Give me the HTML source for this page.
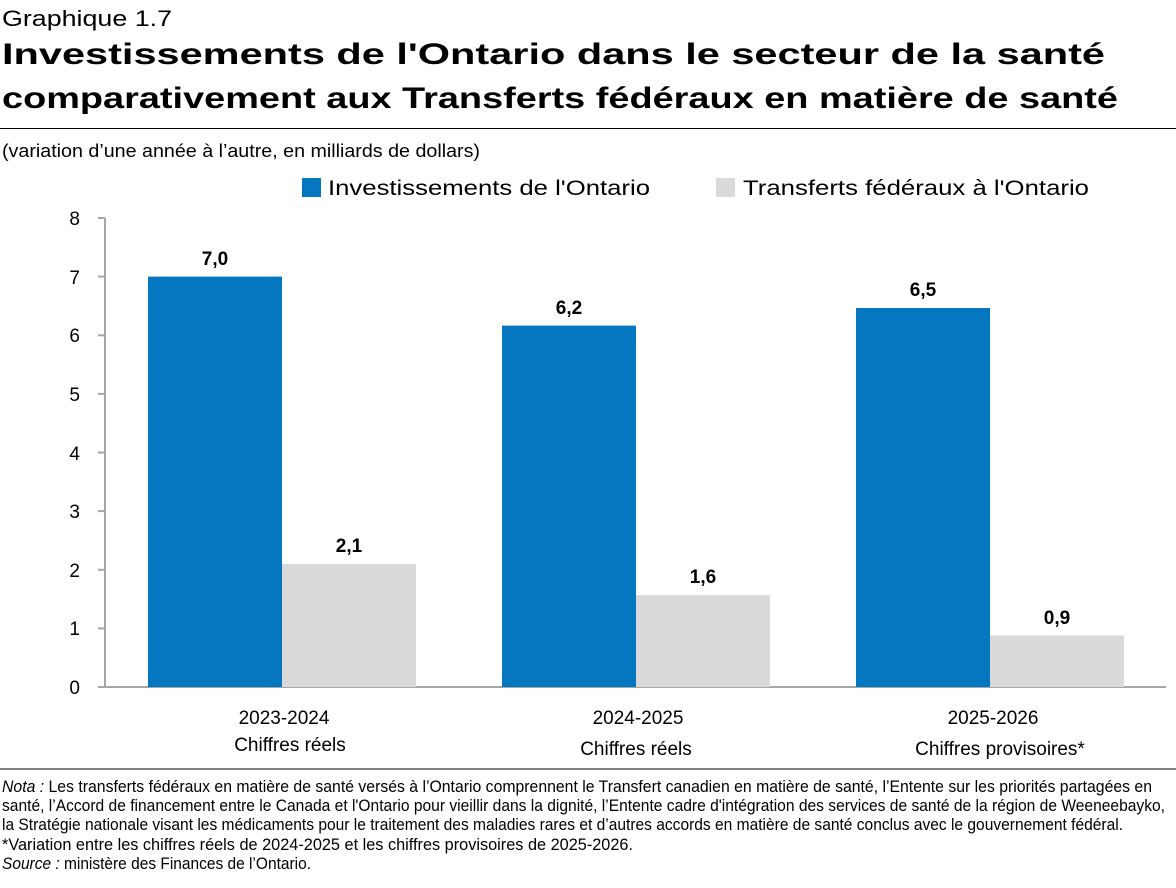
<!DOCTYPE html>
<html><head><meta charset="utf-8"><style>
html,body{margin:0;padding:0;background:#fff}
svg{display:block}
</style></head><body>
<svg width="1176" height="888" viewBox="0 0 1176 888" xmlns="http://www.w3.org/2000/svg" font-family="Liberation Sans, Arial, sans-serif">
<text x="2" y="26" font-size="22" fill="#000" textLength="170" lengthAdjust="spacingAndGlyphs">Graphique 1.7</text>
<text x="2" y="64" font-size="30" font-weight="bold" fill="#000" textLength="1103" lengthAdjust="spacingAndGlyphs">Investissements de l'Ontario dans le secteur de la santé</text>
<text x="2" y="108" font-size="30" font-weight="bold" fill="#000" textLength="1116" lengthAdjust="spacingAndGlyphs">comparativement aux Transferts fédéraux en matière de santé</text>
<line x1="0" y1="128.5" x2="1176" y2="128.5" stroke="#000" stroke-width="1"/>
<text x="2" y="157" font-size="18" fill="#000" textLength="478" lengthAdjust="spacingAndGlyphs">(variation d’une année à l’autre, en milliards de dollars)</text>
<rect x="302" y="178" width="19" height="19" fill="#0577c1"/>
<text x="328" y="195" font-size="21" fill="#000" textLength="322" lengthAdjust="spacingAndGlyphs">Investissements de l'Ontario</text>
<rect x="716" y="178" width="19" height="19" fill="#d9d9d9"/>
<text x="743" y="195" font-size="21" fill="#000" textLength="346" lengthAdjust="spacingAndGlyphs">Transferts fédéraux à l'Ontario</text>
<g stroke="#a6a6a6" stroke-width="2">
<line x1="105" y1="218" x2="105" y2="687"/>
<line x1="98" y1="687" x2="1166" y2="687"/>
<line x1="98" y1="628.4" x2="105" y2="628.4"/>
<line x1="98" y1="569.8" x2="105" y2="569.8"/>
<line x1="98" y1="511.1" x2="105" y2="511.1"/>
<line x1="98" y1="452.5" x2="105" y2="452.5"/>
<line x1="98" y1="393.9" x2="105" y2="393.9"/>
<line x1="98" y1="335.3" x2="105" y2="335.3"/>
<line x1="98" y1="276.6" x2="105" y2="276.6"/>
<line x1="98" y1="218" x2="105" y2="218"/>
</g>
<g font-size="19" fill="#000" text-anchor="end">
<text x="80" y="694">0</text><text x="80" y="635">1</text><text x="80" y="577">2</text><text x="80" y="518">3</text><text x="80" y="460">4</text><text x="80" y="401">5</text><text x="80" y="342">6</text><text x="80" y="284">7</text><text x="80" y="225">8</text>
</g>
<rect x="148" y="276.6" width="134" height="410.4" fill="#0577c1"/>
<rect x="282" y="563.9" width="134" height="123.1" fill="#d9d9d9"/>
<rect x="502" y="325.6" width="134" height="361.4" fill="#0577c1"/>
<rect x="636" y="595.2" width="134" height="91.8" fill="#d9d9d9"/>
<rect x="856" y="308" width="134" height="379" fill="#0577c1"/>
<rect x="990" y="635.5" width="134" height="51.5" fill="#d9d9d9"/>
<g font-size="19" font-weight="bold" fill="#000" text-anchor="middle">
<text x="215" y="265">7,0</text><text x="349" y="552">2,1</text>
<text x="569" y="314">6,2</text><text x="703" y="583">1,6</text>
<text x="923" y="296">6,5</text><text x="1057" y="624">0,9</text>
</g>
<g font-size="19" fill="#000" text-anchor="middle">
<text x="284" y="724">2023-2024</text><text x="290" y="751">Chiffres réels</text>
<text x="638" y="724">2024-2025</text><text x="636" y="755">Chiffres réels</text>
<text x="993" y="724">2025-2026</text><text x="1000" y="755">Chiffres provisoires*</text>
</g>
<line x1="0" y1="769" x2="1176" y2="769" stroke="#000" stroke-width="1"/>
<g font-size="17" fill="#000">
<text x="2" y="792" textLength="1150" lengthAdjust="spacingAndGlyphs"><tspan font-style="italic">Nota :</tspan> Les transferts fédéraux en matière de santé versés à l’Ontario comprennent le Transfert canadien en matière de santé, l’Entente sur les priorités partagées en</text>
<text x="2" y="811" textLength="1163" lengthAdjust="spacingAndGlyphs">santé, l’Accord de financement entre le Canada et l'Ontario pour vieillir dans la dignité, l’Entente cadre d'intégration des services de santé de la région de Weeneebayko,</text>
<text x="2" y="830" textLength="1121" lengthAdjust="spacingAndGlyphs">la Stratégie nationale visant les médicaments pour le traitement des maladies rares et d’autres accords en matière de santé conclus avec le gouvernement fédéral.</text>
<text x="2" y="850" textLength="631" lengthAdjust="spacingAndGlyphs">*Variation entre les chiffres réels de 2024-2025 et les chiffres provisoires de 2025-2026.</text>
<text x="2" y="869" textLength="309" lengthAdjust="spacingAndGlyphs"><tspan font-style="italic">Source :</tspan> ministère des Finances de l’Ontario.</text>
</g>
</svg>
</body></html>
